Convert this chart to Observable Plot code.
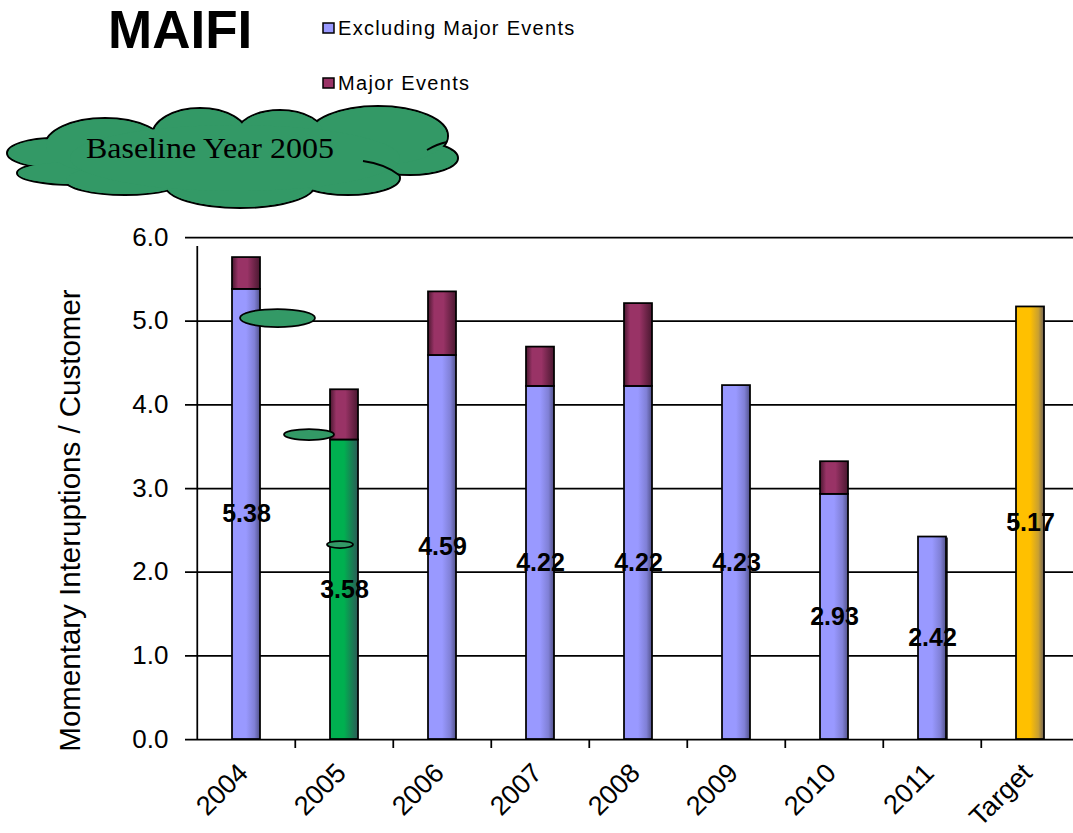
<!DOCTYPE html>
<html>
<head>
<meta charset="utf-8">
<script src="https://cdn.jsdelivr.net/npm/d3@7"></script>
<script src="https://cdn.jsdelivr.net/npm/@observablehq/plot@0.6"></script>
<style>
  body { margin: 0; background: #fff; }
  #wrap { position: relative; width: 1073px; height: 833px; overflow: hidden; font-family: "Liberation Sans", Arial, sans-serif; }
  #header { display: block; }
  #overlay { position: absolute; left: 0; top: 0; pointer-events: none; }
  #chart { width: 1082px; }
  #chart svg { display: block; }
</style>
</head>
<body>
<div id="wrap">
  <svg id="header" width="1073" height="210"></svg>
  <div id="chart"></div>
  <svg id="overlay" width="1073" height="833"></svg>
</div>
<script>
// ---------- data ----------
const categories = ["2004", "2005", "2006", "2007", "2008", "2009", "2010", "2011", "Target"];
const excludingMajor = [5.38, 3.58, 4.59, 4.22, 4.22, 4.23, 2.93, 2.42, 5.17];
const majorEvents = [0.38, 0.60, 0.76, 0.47, 0.99, 0, 0.39, 0, 0];
const yTicks = [0, 1, 2, 3, 4, 5, 6];
const titleText = "MAIFI";
const legendLabels = ["Excluding Major Events", "Major Events"];
const yLabel = "Momentary Interuptions / Customer";
const calloutText = "Baseline Year 2005";
const baselineCategory = "2005";
const targetCategory = "Target";
const shadowCategory = "2011";

// ---------- layout (plot area runs slightly past the right edge of the window) ----------
const W = 1081, H = 623, mL = 195, mR = 0, mT = 27, mB = 94;
const step = (W - mL - mR) / categories.length;

// ---------- header (title, legend, callout cloud, gradients) ----------
const hdr = d3.select("#header");
const defs = hdr.append("defs");
function grad(id, stops) {
  const g = defs.append("linearGradient").attr("id", id).attr("x1", "0").attr("x2", "1").attr("y1", "0").attr("y2", "0");
  stops.forEach(([o, c]) => g.append("stop").attr("offset", o).attr("stop-color", c));
}
grad("gLav", [[0, "#9999FF"], [0.5, "#9999FF"], [0.8, "#8080d6"], [1, "#52528a"]]);
grad("gMaroon", [[0, "#4a1830"], [0.22, "#993366"], [0.55, "#993366"], [1, "#4a1830"]]);
grad("gGreen", [[0, "#00B050"], [0.5, "#00B050"], [1, "#2c5a58"]]);
grad("gGold", [[0, "#FFC000"], [0.5, "#FFC000"], [0.8, "#c9a030"], [1, "#6f6258"]]);
const blur = defs.append("filter").attr("id", "shadowBlur").attr("x", "-60%").attr("y", "-10%").attr("width", "220%").attr("height", "120%");
blur.append("feGaussianBlur").attr("stdDeviation", 4);

hdr.append("text").attr("x", 108).attr("y", 48).attr("font-size", 53).attr("font-weight", "bold")
  .attr("font-family", "Liberation Sans, Arial, sans-serif").text(titleText);

legendLabels.forEach((lab, i) => {
  const y = i === 0 ? 35 : 90;
  hdr.append("rect").attr("x", 323).attr("y", y - 12).attr("width", 11).attr("height", 10)
    .attr("fill", i === 0 ? "#9999FF" : "#993366").attr("stroke", "#000").attr("stroke-width", 1.5);
  hdr.append("text").attr("x", 338).attr("y", y).attr("font-size", 20).attr("letter-spacing", "1.3px")
    .attr("font-family", "Liberation Sans, Arial, sans-serif").text(lab);
});

// cloud made of overlapping lobes: stroked layer then unstroked fill layer
const lobes = [
  [55, 153, 48, 15], [75, 173, 58, 12], [125, 180, 60, 15], [240, 185, 75, 23],
  [348, 178, 52, 17], [410, 158, 48, 17], [378, 136, 70, 30], [280, 136, 45, 26],
  [200, 136, 48, 28], [105, 146, 60, 28]
];
const cloud = hdr.append("g");
lobes.forEach(([cx, cy, rx, ry]) => cloud.append("ellipse").attr("cx", cx).attr("cy", cy).attr("rx", rx).attr("ry", ry)
  .attr("fill", "#339966").attr("stroke", "#000").attr("stroke-width", 2));
lobes.forEach(([cx, cy, rx, ry]) => cloud.append("ellipse").attr("cx", cx).attr("cy", cy).attr("rx", rx - 1).attr("ry", ry - 1)
  .attr("fill", "#339966"));
cloud.append("ellipse").attr("cx", 235).attr("cy", 158).attr("rx", 165).attr("ry", 33).attr("fill", "#339966");
// inner creases on the right side
["M363,161 Q385,164 399,175", "M427,150 Q437,144 447,142"].forEach(p =>
  cloud.append("path").attr("d", p).attr("fill", "none").attr("stroke", "#000").attr("stroke-width", 1.8));
hdr.append("text").attr("x", 86).attr("y", 158).attr("font-size", 30).attr("textLength", 248).attr("lengthAdjust", "spacingAndGlyphs")
  .attr("font-family", "Liberation Serif, Times New Roman, serif").text(calloutText);

// ---------- chart ----------
const barRows = categories.flatMap((c, i) => [
  {cat: c, series: legendLabels[0], value: excludingMajor[i],
   fill: c === baselineCategory ? "url(#gGreen)" : c === targetCategory ? "url(#gGold)" : "url(#gLav)"},
  {cat: c, series: legendLabels[1], value: majorEvents[i], fill: "url(#gMaroon)"}
]).filter(d => d.value > 0);
const labelRows = categories.map((c, i) => ({cat: c, value: excludingMajor[i]}));
const shadowRows = labelRows.filter(d => d.cat === shadowCategory);

const chart = Plot.plot({
  width: W, height: H,
  marginLeft: mL, marginRight: mR, marginTop: mT, marginBottom: mB,
  style: {fontFamily: "Liberation Sans, Arial, sans-serif", color: "#000", background: "transparent", overflow: "visible"},
  x: {domain: categories, paddingInner: 0.71, paddingOuter: 0.355, label: null},
  y: {domain: [0, 6], label: null},
  color: {type: "identity"},
  marks: [
    Plot.ruleY(yTicks, {stroke: "#000", strokeWidth: 1.75, insetLeft: -10}),
    Plot.ruleX(categories.slice(1), {x: d => d, y1: 0, y2: 0, insetBottom: -9, dx: -step / 2, stroke: "#000", strokeWidth: 1.75}),
    Plot.ruleX(categories.slice(0, 1), {x: d => d, y1: 0, y2: 6, insetBottom: -9, dx: -step / 2, stroke: "#000", strokeWidth: 1.75}),
    Plot.barY(shadowRows, {x: "cat", y: "value", fill: "#000", fillOpacity: 0.7, dx: 2, dy: 1, ariaLabel: "shadow"}),
    Plot.barY(barRows, {x: "cat", y: "value", fill: "fill", stroke: "#000", strokeWidth: 1.75}),
    Plot.axisY(yTicks, {tickSize: 0, tickPadding: 27, tickFormat: d => d.toFixed(1), fontSize: 26, label: null}),
    Plot.axisX({tickSize: 0, tickRotate: -45, tickPadding: 29, fontSize: 27, label: null, dx: -3}),
    Plot.text([yLabel], {text: d => d, frameAnchor: "left", rotate: -90, dx: -125, dy: 32, fontSize: 29.5, textAnchor: "middle", lineAnchor: "middle"}),
    Plot.text(labelRows, {x: "cat", y: d => d.value / 2, text: d => d.value.toFixed(2), fontSize: 25, fontWeight: "bold", fill: "#000"})
  ]
});
d3.select(chart).selectAll('g[aria-label="shadow"]').attr("filter", "url(#shadowBlur)");
document.getElementById("chart").appendChild(chart);

// ---------- thought-bubble ellipses from the cloud toward the baseline bar ----------
const ov = d3.select("#overlay");
[[277.5, 318, 37.5, 9], [309, 434.5, 25, 5.5], [340, 544.5, 13, 3.5]].forEach(([cx, cy, rx, ry]) =>
  ov.append("ellipse").attr("cx", cx).attr("cy", cy).attr("rx", rx).attr("ry", ry)
    .attr("fill", "#339966").attr("stroke", "#000").attr("stroke-width", 1.75));
</script>
</body>
</html>
